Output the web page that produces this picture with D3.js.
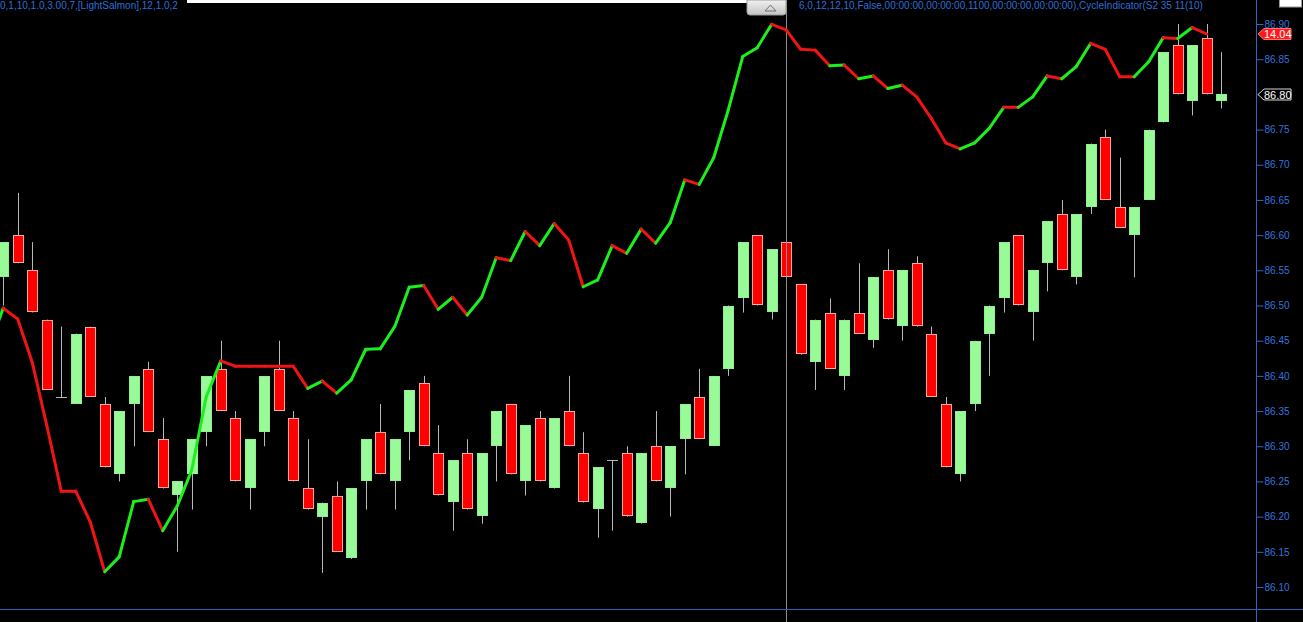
<!DOCTYPE html>
<html>
<head>
<meta charset="utf-8">
<script src="https://cdn.jsdelivr.net/npm/d3@7"></script>
<style>
  body { margin: 0; background: #000; overflow: hidden; }
  svg { display: block; }
  .axis text { font-family: "Liberation Sans", Arial, sans-serif; font-size: 10px; fill: #3573db; }
  .axis line { stroke: #3566c4; }
  .status { font-family: "Liberation Sans", Arial, sans-serif; font-size: 10px; fill: #2f6fd6; }
  .tag { font-family: "Liberation Sans", Arial, sans-serif; font-size: 11px; fill: #fff; }
</style>
</head>
<body>
<div id="chart"></div>
<script>
let totalWidth = 1303
let totalHeight = 622
let axisX = 1256

// candles, one per bar (index 0 = left edge)
let opens = [86.54, 86.60, 86.55, 86.48, 86.37, 86.36, 86.47, 86.36, 86.26, 86.36,
    86.41, 86.31, 86.23, 86.26, 86.32, 86.41, 86.34, 86.24, 86.32, 86.41,
    86.34, 86.24, 86.20, 86.23, 86.14, 86.25, 86.32, 86.25, 86.32, 86.39,
    86.29, 86.22, 86.29, 86.20, 86.30, 86.36, 86.25, 86.34, 86.24, 86.35,
    86.29, 86.21, 86.28, 86.29, 86.19, 86.30, 86.24, 86.31, 86.37, 86.30,
    86.41, 86.51, 86.60, 86.49, 86.59, 86.53, 86.42, 86.49, 86.40, 86.49,
    86.45, 86.55, 86.47, 86.56, 86.46, 86.36, 86.26, 86.36, 86.46, 86.51,
    86.60, 86.49, 86.56, 86.63, 86.54, 86.64, 86.74, 86.64, 86.60, 86.65,
    86.76, 86.87, 86.79, 86.88, 86.79]
let highs = [86.59, 86.66, 86.59, 86.48, 86.47, 86.46, 86.47, 86.37, 86.35, 86.40,
    86.42, 86.34, 86.25, 86.31, 86.40, 86.45, 86.35, 86.31, 86.40, 86.45,
    86.35, 86.31, 86.22, 86.25, 86.24, 86.31, 86.36, 86.31, 86.38, 86.40,
    86.33, 86.28, 86.31, 86.29, 86.35, 86.36, 86.33, 86.35, 86.34, 86.40,
    86.32, 86.27, 86.28, 86.30, 86.29, 86.35, 86.30, 86.36, 86.41, 86.40,
    86.50, 86.59, 86.60, 86.58, 86.59, 86.53, 86.48, 86.51, 86.48, 86.56,
    86.54, 86.58, 86.55, 86.57, 86.47, 86.37, 86.35, 86.45, 86.50, 86.59,
    86.60, 86.55, 86.62, 86.65, 86.63, 86.73, 86.75, 86.71, 86.64, 86.75,
    86.86, 86.90, 86.87, 86.90, 86.86]
let lows = [86.50, 86.56, 86.49, 86.38, 86.37, 86.36, 86.37, 86.27, 86.25, 86.30,
    86.32, 86.24, 86.15, 86.21, 86.30, 86.35, 86.25, 86.21, 86.30, 86.35,
    86.25, 86.21, 86.12, 86.15, 86.14, 86.21, 86.26, 86.21, 86.28, 86.30,
    86.23, 86.18, 86.21, 86.19, 86.25, 86.26, 86.23, 86.25, 86.24, 86.30,
    86.22, 86.17, 86.18, 86.20, 86.19, 86.25, 86.20, 86.26, 86.31, 86.30,
    86.40, 86.49, 86.50, 86.48, 86.54, 86.43, 86.38, 86.41, 86.38, 86.46,
    86.44, 86.48, 86.45, 86.47, 86.37, 86.27, 86.25, 86.35, 86.40, 86.49,
    86.50, 86.45, 86.52, 86.55, 86.53, 86.63, 86.65, 86.61, 86.54, 86.65,
    86.76, 86.80, 86.77, 86.80, 86.78]
let closes = [86.59, 86.56, 86.49, 86.38, 86.37, 86.46, 86.37, 86.27, 86.35, 86.40,
    86.32, 86.24, 86.25, 86.31, 86.40, 86.35, 86.25, 86.31, 86.40, 86.35,
    86.25, 86.21, 86.22, 86.15, 86.24, 86.31, 86.26, 86.31, 86.38, 86.30,
    86.23, 86.28, 86.21, 86.29, 86.35, 86.26, 86.33, 86.25, 86.34, 86.30,
    86.22, 86.27, 86.28, 86.20, 86.29, 86.25, 86.30, 86.36, 86.31, 86.40,
    86.50, 86.59, 86.50, 86.58, 86.54, 86.43, 86.48, 86.41, 86.48, 86.46,
    86.54, 86.48, 86.55, 86.47, 86.37, 86.27, 86.35, 86.45, 86.50, 86.59,
    86.50, 86.55, 86.62, 86.55, 86.63, 86.73, 86.65, 86.61, 86.64, 86.75,
    86.86, 86.80, 86.87, 86.80, 86.80]

// CycleIndicator, starts one bar before the first visible candle
let indStart = -1
let indicator = [6.24, 7.24, 6.97, 5.90, 4.34, 2.70, 2.70, 1.94, 0.70, 1.07,
    2.44, 2.50, 1.72, 2.33, 3.22, 5.04, 5.93, 5.80, 5.80, 5.80,
    5.80, 5.80, 5.25, 5.43, 5.13, 5.46, 6.22, 6.23, 6.78, 7.76,
    7.80, 7.21, 7.51, 7.07, 7.51, 8.49, 8.42, 9.14, 8.79, 9.34,
    8.93, 7.77, 7.94, 8.79, 8.60, 9.20, 8.85, 9.36, 10.42, 10.31,
    10.97, 12.15, 13.48, 13.70, 14.28, 14.14, 13.66, 13.64, 13.25, 13.27,
    12.93, 13.00, 12.69, 12.77, 12.48, 11.95, 11.34, 11.19, 11.34, 11.70,
    12.22, 12.22, 12.48, 13.00, 12.93, 13.23, 13.81, 13.66, 12.98, 12.98,
    13.35, 13.95, 13.93, 14.20, 14.04]

let yTicks = [86.10, 86.15, 86.20, 86.25, 86.30, 86.35, 86.40, 86.45, 86.50,
    86.55, 86.60, 86.65, 86.70, 86.75, 86.80, 86.85, 86.90]

let statusLeft = "0,1,10,1.0,3.00,7,[LightSalmon],12,1.0,2"
let statusRight = "6,0,12,12,10,False,00:00:00,00:00:00,1100,00:00:00,00:00:00),CycleIndicator(S2 35 11(10)"
let cursorBar = 54

let candles = opens.map((o, i) => ({i: i, open: o, high: highs[i], low: lows[i], close: closes[i]}))

let svg = d3.select("#chart").append("svg")
    .attr("width", totalWidth)
    .attr("height", totalHeight)

svg.append("rect")
    .attr("width", totalWidth)
    .attr("height", totalHeight)
    .attr("fill", "#000")

const xScale = d3.scaleLinear()
    .domain([0, opens.length - 1])
    .range([3.2, 3.2 + 14.5 * (opens.length - 1)])

const yScale = d3.scaleLinear()
    .domain([86.10, 86.90])
    .range([587, 24])

// indicator has its own scale, last value sits by the red tag
const indScale = d3.scaleLinear()
    .domain([0, 14.04])
    .range([600, 34])

let plot = svg.append("g")

drawCandles(candles)
drawCursor()
drawIndicator(indicator)
createAxis()
drawTags()
drawTopBar()

function drawCandles(data){
    let px = d => Math.round(xScale(d.i))

    // wicks
    plot.selectAll("line.wick")
        .data(data)
        .enter()
        .append("line")
        .attr("class", "wick")
        .attr("x1", d => px(d) + 0.5)
        .attr("x2", d => px(d) + 0.5)
        .attr("y1", d => yScale(d.high))
        .attr("y2", d => yScale(d.low))
        .attr("stroke", "#b8b8b8")
        .attr("stroke-width", 1)

    let bodies = data.filter(d => d.open !== d.close)
    plot.selectAll("rect.body")
        .data(bodies)
        .enter()
        .append("rect")
        .attr("class", "body")
        .attr("x", d => px(d) - 4.5)
        .attr("width", 10)
        .attr("y", d => Math.round(yScale(Math.max(d.open, d.close))) + 0.5)
        .attr("height", d => Math.max(1, Math.round(yScale(Math.min(d.open, d.close)) - yScale(Math.max(d.open, d.close))) - 1))
        .attr("fill", d => d.close > d.open ? "#98fb98" : "#ff0000")
        .attr("stroke", d => d.close > d.open ? "#8ef08e" : "#f5a99a")
        .attr("stroke-width", 1)

    // doji bars
    let dojis = data.filter(d => d.open === d.close)
    plot.selectAll("line.doji")
        .data(dojis)
        .enter()
        .append("line")
        .attr("class", "doji")
        .attr("x1", d => px(d) - 5)
        .attr("x2", d => px(d) + 6)
        .attr("y1", d => Math.round(yScale(d.open)) + 0.5)
        .attr("y2", d => Math.round(yScale(d.open)) + 0.5)
        .attr("stroke", "#b8b8b8")
        .attr("stroke-width", 1)
}

function drawCursor(){
    let cx = Math.round(xScale(cursorBar)) + 0.5
    svg.append("line")
        .attr("x1", cx).attr("x2", cx)
        .attr("y1", 0).attr("y2", totalHeight)
        .attr("stroke", "#8c8c8c")
        .attr("stroke-width", 1)
}

function drawIndicator(values){
    let segs = []
    for (let k = 0; k < values.length - 1; k++) {
        segs.push({a: k + indStart, b: k + 1 + indStart, va: values[k], vb: values[k + 1]})
    }
    svg.selectAll("line.ind")
        .data(segs)
        .enter()
        .append("line")
        .attr("class", "ind")
        .attr("x1", d => xScale(d.a))
        .attr("y1", d => indScale(d.va))
        .attr("x2", d => xScale(d.b))
        .attr("y2", d => indScale(d.vb))
        .attr("stroke", d => d.vb > d.va ? "#1cf01c" : "#f01414")
        .attr("stroke-width", 3)
        .attr("stroke-linecap", "round")
}

function createAxis(){
    let yAxis = d3.axisRight(yScale)
        .tickValues(yTicks)
        .tickFormat(d3.format(".2f"))
        .tickSize(7)
        .tickPadding(1)

    let g = svg.append("g")
        .attr("class", "axis")
        .attr("transform", "translate(" + (axisX + 0.5) + ",0)")
        .call(yAxis)
    g.select(".domain").remove()

    svg.append("line")
        .attr("x1", axisX + 0.5).attr("x2", axisX + 0.5)
        .attr("y1", 0).attr("y2", totalHeight)
        .attr("stroke", "#3566c4")

    svg.append("line")
        .attr("x1", 0).attr("x2", totalWidth)
        .attr("y1", 609.5).attr("y2", 609.5)
        .attr("stroke", "#2d5fb8")
}

function tagShape(y){
    let x0 = axisX + 2
    return [[x0, y], [x0 + 6, y - 5.5], [x0 + 33, y - 5.5], [x0 + 33, y + 5.5], [x0 + 6, y + 5.5]]
        .map(p => p.join(",")).join(" ")
}

function drawTags(){
    let lastInd = indicator[indicator.length - 1]
    let yi = indScale(lastInd)
    svg.append("polygon")
        .attr("points", tagShape(yi))
        .attr("fill", "#ff1a1a")
        .attr("stroke", "#ff7070")
    svg.append("text")
        .attr("class", "tag")
        .attr("x", axisX + 8)
        .attr("y", yi + 4)
        .text(lastInd.toFixed(2))

    let lastClose = closes[closes.length - 1]
    let yc = Math.round(yScale(lastClose)) + 0.5
    svg.append("polygon")
        .attr("points", tagShape(yc))
        .attr("fill", "#000")
        .attr("stroke", "#d8d8d8")
    svg.append("text")
        .attr("class", "tag")
        .attr("x", axisX + 8)
        .attr("y", yc + 4)
        .text(lastClose.toFixed(2))
}

function drawTopBar(){
    // status line along the top edge
    svg.append("text")
        .attr("class", "status")
        .attr("x", 0)
        .attr("y", 9)
        .text(statusLeft)
    svg.append("text")
        .attr("class", "status")
        .attr("x", 799)
        .attr("y", 9)
        .text(statusRight)

    svg.append("rect")
        .attr("x", 187).attr("y", 0)
        .attr("width", 560).attr("height", 3)
        .attr("fill", "#fff")

    let grad = svg.append("defs").append("linearGradient")
        .attr("id", "tabGrad")
        .attr("x1", 0).attr("y1", 0).attr("x2", 0).attr("y2", 1)
    grad.append("stop").attr("offset", "0%").attr("stop-color", "#f0f0f0")
    grad.append("stop").attr("offset", "100%").attr("stop-color", "#c4c4c4")

    svg.append("path")
        .attr("d", "M747,0 L786,0 L786,12 Q786,15 783,15 L750,15 Q747,15 747,12 Z")
        .attr("fill", "url(#tabGrad)")
        .attr("stroke", "#9a9a9a")
    svg.append("path")
        .attr("d", "M765,11 L770.5,5 L776,11 Z")
        .attr("fill", "none")
        .attr("stroke", "#707070")

    svg.append("rect")
        .attr("x", 1279.5).attr("y", -1)
        .attr("width", 22).attr("height", 8)
        .attr("fill", "#fff")
        .attr("stroke", "#9a9a9a")
}
</script>
</body>
</html>
